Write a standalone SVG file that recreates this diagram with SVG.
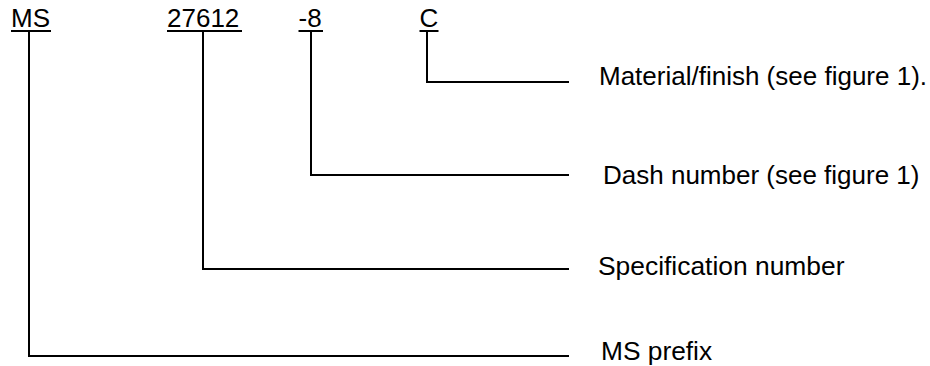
<svg xmlns="http://www.w3.org/2000/svg" width="930" height="366" viewBox="0 0 930 366">
  <style>
    text { font-family: "Liberation Sans", Arial, sans-serif; font-size: 26px; fill: #000; }
    .ul { stroke: #000; stroke-width: 2; }
    .lead { fill: none; stroke: #000; stroke-width: 2; stroke-linecap: square; stroke-linejoin: miter; }
  </style>
  <rect width="930" height="366" fill="#fff"/>

  <!-- part number fields, underlined -->
  <g id="field-ms">
    <text x="11" y="27">MS</text>
    <line class="ul" x1="11" y1="31" x2="51" y2="31"/>
  </g>
  <g id="field-spec">
    <text x="167" y="27">27612</text>
    <line class="ul" x1="167" y1="31" x2="242" y2="31"/>
  </g>
  <g id="field-dash">
    <text x="298.5" y="27">-8</text>
    <line class="ul" x1="298.5" y1="31" x2="323" y2="31"/>
  </g>
  <g id="field-material">
    <text x="419.5" y="27">C</text>
    <line class="ul" x1="419.5" y1="31" x2="438.5" y2="31"/>
  </g>

  <!-- descriptions -->
  <g id="label-material">
    <text x="599" y="85">Material/finish (see figure 1).</text>
  </g>
  <g id="label-dash">
    <text x="603" y="184">Dash number (see figure 1)</text>
  </g>
  <g id="label-spec">
    <text x="598" y="275" style="font-size:26.4px">Specification number</text>
  </g>
  <g id="label-ms">
    <text x="601" y="360" style="font-size:26.3px">MS prefix</text>
  </g>

  <!-- leader lines from each field to its description -->
  <g id="connectors">
    <polyline class="lead" points="427,32 427,82 568,82"/>
    <polyline class="lead" points="311,32 311,175 568,175"/>
    <polyline class="lead" points="203,32 203,269 568,269"/>
    <polyline class="lead" points="29,32 29,356 568,356"/>
  </g>
</svg>
